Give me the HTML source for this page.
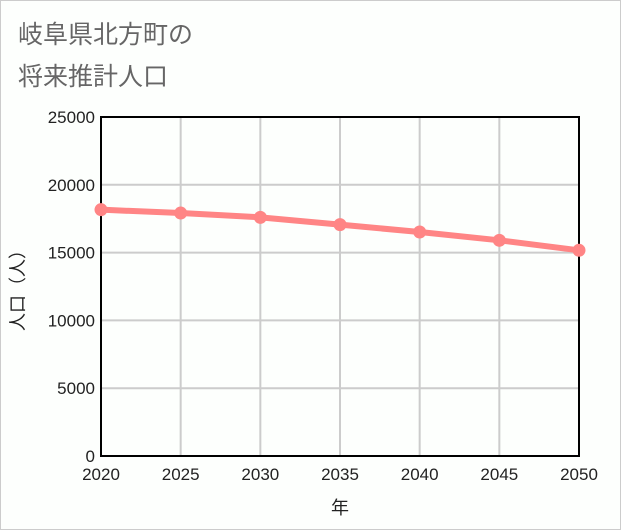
<!DOCTYPE html>
<html><head><meta charset="utf-8"><style>
body{margin:0;background:#fff}
svg{display:block}
text{font-family:"Liberation Sans","Noto Sans CJK JP",sans-serif}
</style></head><body>
<svg width="621" height="530" viewBox="0 0 621 530" xmlns="http://www.w3.org/2000/svg">
<rect x="0.5" y="0.5" width="620" height="529" fill="#fdfffd" stroke="#ccc"/>
<text x="18" y="43" font-size="25" fill="#666">岐阜県北方町の</text>
<text x="18" y="85" font-size="25" fill="#666">将来推計人口</text>
<g id="grid"></g>
<g id="axes"></g>
<g id="series"></g>
<text transform="translate(24,286) rotate(-90)" text-anchor="middle" font-size="18" fill="#222">人口（人）</text>
<text x="340" y="514" text-anchor="middle" font-size="18" fill="#222">年</text>
</svg>
<script>
const years=[2020,2025,2030,2035,2040,2045,2050];
const population=[18166,17916,17600,17062,16517,15906,15170];
const yTicks=[0,5000,10000,15000,20000,25000];
const L=101,R=579,T=117,B=456;
const xs=v=>L+(v-2020)/30*(R-L);
const ys=v=>B-v/25000*(B-T);
const NS="http://www.w3.org/2000/svg";
function mk(tag,attrs,parent,txt){const e=document.createElementNS(NS,tag);for(const k in attrs)e.setAttribute(k,attrs[k]);if(txt!==undefined)e.textContent=txt;parent.appendChild(e);return e;}
const grid=document.getElementById('grid'),axes=document.getElementById('axes'),ser=document.getElementById('series');
yTicks.forEach(t=>{
 const l=mk('line',{x1:L,x2:R,y1:ys(t),y2:ys(t),stroke:'#ccc','stroke-width':2},grid);
 
 
 const tx=mk('text',{x:L-6,y:ys(t)+6,'text-anchor':'end','font-size':17,fill:'#222'},axes,t);
 
 
});
years.forEach(y=>{
 const l=mk('line',{x1:xs(y),x2:xs(y),y1:T,y2:B,stroke:'#ccc','stroke-width':2},grid);
 
 
 const tx=mk('text',{x:xs(y),y:480,'text-anchor':'middle','font-size':17,fill:'#222'},axes,y);
 
 
});
const fr=mk('rect',{x:L,y:T,width:R-L,height:B-T,fill:'none',stroke:'#000','stroke-width':2},axes);


const pl=mk('polyline',{points:years.map((y,i)=>xs(y)+','+ys(population[i])).join(' '),fill:'none',stroke:'#ff8585','stroke-width':6,'stroke-linejoin':'round'},ser);


years.forEach((y,i)=>{
 const c=mk('circle',{cx:xs(y),cy:ys(population[i]),r:6.5,fill:'#ff8585'},ser);
 
 
});
</script>
</body></html>
